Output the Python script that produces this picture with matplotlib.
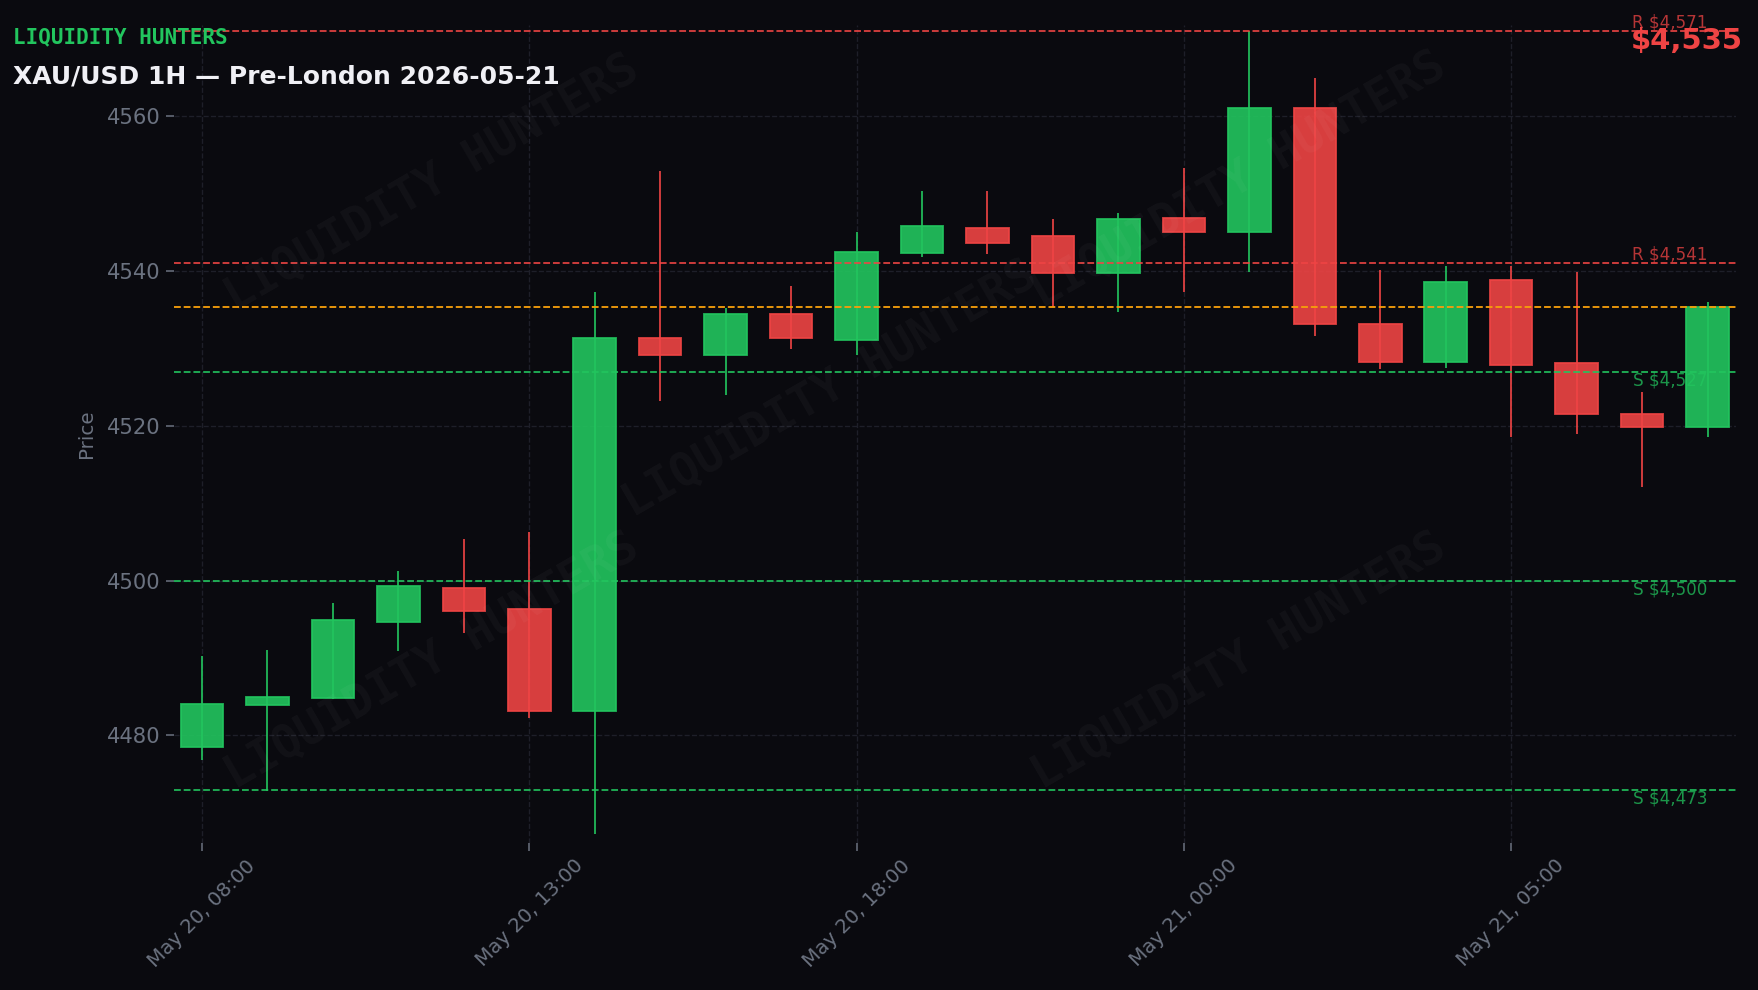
import matplotlib
matplotlib.use("Agg")
import matplotlib.pyplot as plt
import pandas as pd

# hourly XAU/USD candles (21:00 break hour is missing)
hours = pd.date_range("2026-05-20 08:00", "2026-05-21 08:00", freq="h")
times = [t for t in hours if t.hour != 21]
opens = [4478.5, 4483.9, 4484.8, 4494.7, 4499.1, 4496.3, 4483.1, 4531.4,
         4529.1, 4534.5, 4531.1, 4542.4, 4545.6, 4544.6, 4539.8, 4546.9,
         4545.1, 4561.1, 4533.2, 4528.2, 4538.8, 4528.1, 4521.6, 4519.8]
highs = [4490.2, 4491.1, 4497.1, 4501.2, 4505.4, 4506.3, 4537.3, 4553.0,
         4535.2, 4538.1, 4545.0, 4550.4, 4550.4, 4546.8, 4547.5, 4553.3,
         4571.0, 4564.9, 4540.2, 4540.7, 4540.6, 4539.9, 4524.4, 4536.0]
lows = [4476.8, 4472.8, 4484.7, 4490.9, 4493.2, 4482.3, 4467.2, 4523.2,
        4524.0, 4529.9, 4529.1, 4541.8, 4542.2, 4535.3, 4534.7, 4537.3,
        4539.9, 4531.6, 4527.3, 4527.5, 4518.5, 4519.0, 4512.1, 4518.5]
closes = [4484.0, 4485.0, 4494.9, 4499.3, 4496.1, 4483.1, 4531.4, 4529.1,
          4534.5, 4531.3, 4542.5, 4545.8, 4543.6, 4539.8, 4546.8, 4545.0,
          4561.1, 4533.2, 4528.2, 4538.6, 4527.9, 4521.5, 4519.8, 4535.4]

resistance = [4571, 4541]
support = [4527, 4500, 4473]
last_price = closes[-1]

BG = "#0a0a0f"
GREEN = "#22c55e"
RED = "#ef4444"
ORANGE = "#f59e0b"
GRID = "#1e1f29"
MUTED = "#6b7280"

fig = plt.figure(figsize=(1758 / 110, 990 / 110), dpi=110, facecolor=BG)
ax = fig.add_axes([0.0989, 0.1485, 0.8884, 0.8262])
ax.set_facecolor(BG)

x = list(range(len(times)))
colors = [GREEN if c >= o else RED for o, c in zip(opens, closes)]

# wicks then bodies
ax.vlines(x, lows, highs, colors=colors, linewidth=1.1, zorder=2)
bottoms = [min(o, c) for o, c in zip(opens, closes)]
heights = [abs(c - o) for o, c in zip(opens, closes)]
ax.bar(x, heights, bottom=bottoms, width=0.65, color=colors, alpha=0.9,
       edgecolor=colors, linewidth=1.2, zorder=3)

# key levels
for lvl in resistance:
    ax.axhline(lvl, color=RED, linestyle="--", linewidth=1.2, alpha=0.9, zorder=4)
    ax.text(x[-1], lvl, f"R ${lvl:,}", color=RED, alpha=0.75,
            fontsize=11, ha="right", va="bottom", zorder=5)
for lvl in support:
    ax.axhline(lvl, color=GREEN, linestyle="--", linewidth=1.2, alpha=0.9, zorder=4)
    ax.text(x[-1], lvl, f"S ${lvl:,}", color=GREEN, alpha=0.75,
            fontsize=11, ha="right", va="top", zorder=5)
ax.axhline(last_price, color=ORANGE, linestyle="--", linewidth=1.2, zorder=4)

# watermark
for wx, wy in [(0.165, 0.807), (0.682, 0.81), (0.42, 0.555), (0.165, 0.222), (0.682, 0.222)]:
    ax.text(wx, wy, "LIQUIDITY HUNTERS", transform=ax.transAxes, rotation=30,
            fontsize=30, fontweight="bold", family="DejaVu Sans Mono",
            color="white", alpha=0.035, ha="center", va="center", zorder=6)

ax.set_xlim(-0.43, 23.43)
ax.set_ylim(4466.1, 4571.8)

tick_idx = list(range(0, len(times), 5))
ax.set_xticks(tick_idx)
ax.set_xticklabels([times[i].strftime("%b %d, %H:%M") for i in tick_idx],
                   rotation=45)
ax.set_yticks([4480, 4500, 4520, 4540, 4560])
ax.tick_params(colors=MUTED, labelsize=13.8, length=5, width=1)
ax.tick_params(axis="x", labelsize=13)
ax.set_ylabel("Price", color=MUTED, fontsize=13, labelpad=7)
ax.grid(True, color=GRID, linestyle="--", linewidth=0.9, zorder=0)
ax.set_axisbelow(True)
for s in ax.spines.values():
    s.set_visible(False)

fig.text(0.0075, 0.962, "LIQUIDITY HUNTERS", color=GREEN, fontsize=13.7,
         fontweight="bold", family="DejaVu Sans Mono", va="center")
fig.text(0.0075, 0.923, "XAU/USD 1H — Pre-London 2026-05-21", color="#f0f0f5",
         fontsize=16.4, fontweight="bold", va="center")
fig.text(0.9915, 0.959, f"${last_price:,.0f}", color=RED, fontsize=19,
         fontweight="bold", ha="right", va="center")

fig.savefig("out.png", dpi=110, facecolor=BG)
